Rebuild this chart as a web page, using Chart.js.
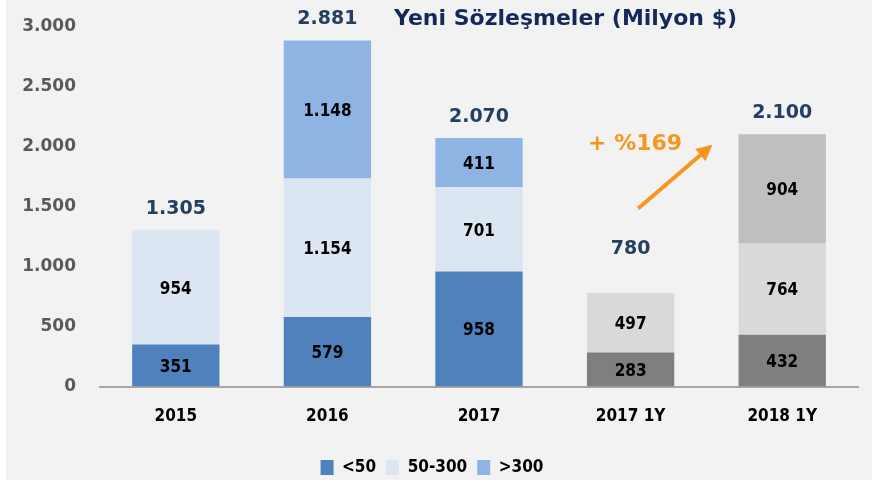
<!DOCTYPE html>
<html>
<head>
<meta charset="utf-8">
<script src="https://cdn.jsdelivr.net/npm/chart.js@4.4.0/dist/chart.umd.min.js"></script>
<style>
  html, body { margin: 0; padding: 0; background: #ffffff; }
  #wrap { position: absolute; left: 6px; top: 0; width: 866px; height: 480px; background: #f2f2f2; }
</style>
</head>
<body>
<div id="wrap"><canvas id="myChart" width="866" height="480"></canvas></div>
<script>
var categories = ['2015', '2016', '2017', '2017 1Y', '2018 1Y'];
var small = [351, 579, 958, 283, 432];      // <50
var medium = [954, 1154, 701, 497, 764];    // 50-300
var large = [0, 1148, 411, 0, 904];         // >300
var totals = [1305, 2881, 2070, 780, 2100];
var yTicks = [0, 500, 1000, 1500, 2000, 2500, 3000];
var growthLabel = '+ %169';

function fmt(v) {
    return v.toString().replace(/\B(?=(\d{3})+(?!\d))/g, '.');
}

// last two bars are half-year figures, drawn in grey
var blueSmall = '#4f81bd', blueMed = '#dce6f2', blueLarge = '#8eb4e3';
var greySmall = '#7f7f7f', greyMed = '#d9d9d9', greyLarge = '#bfbfbf';
function colors(blue, grey) {
    return categories.map(function (c) { return c.indexOf('1Y') > -1 ? grey : blue; });
}

var labelPlugin = {
    id: 'labels',
    afterDatasetsDraw: function (chart) {
        var ctx = chart.ctx;
        var xs = chart.scales.x, ys = chart.scales.y;
        ctx.save();
        ctx.textAlign = 'center';
        ctx.textBaseline = 'middle';
        ctx.fillStyle = '#000000';
        ctx.font = 'bold 17px "DejaVu Sans Condensed", "DejaVu Sans", sans-serif';
        chart.data.datasets.forEach(function (ds, di) {
            var meta = chart.getDatasetMeta(di);
            meta.data.forEach(function (bar, i) {
                var v = ds.data[i];
                if (!v) return;
                ctx.fillText(fmt(v), bar.x, (bar.y + bar.base) / 2 + 2);
            });
        });
        // totals
        ctx.fillStyle = '#243f60';
        ctx.font = 'bold 19px "DejaVu Sans", sans-serif';
        totals.forEach(function (t, i) {
            var off = (i === 3) ? 44 : 21;
            ctx.fillText(fmt(t), xs.getPixelForValue(i), ys.getPixelForValue(t) - off);
        });
        // growth arrow
        var x1 = xs.getPixelForValue(3.05), y1 = ys.getPixelForValue(1483);
        var x2 = xs.getPixelForValue(3.54), y2 = ys.getPixelForValue(2013);
        var ang = Math.atan2(y2 - y1, x2 - x1);
        ctx.strokeStyle = '#f7961e';
        ctx.fillStyle = '#f7961e';
        ctx.lineWidth = 4;
        ctx.beginPath();
        ctx.moveTo(x1, y1);
        ctx.lineTo(x2 - 10 * Math.cos(ang), y2 - 10 * Math.sin(ang));
        ctx.stroke();
        ctx.beginPath();
        ctx.moveTo(x2, y2);
        ctx.lineTo(x2 - 16 * Math.cos(ang) + 8 * Math.sin(ang), y2 - 16 * Math.sin(ang) - 8 * Math.cos(ang));
        ctx.lineTo(x2 - 16 * Math.cos(ang) - 8 * Math.sin(ang), y2 - 16 * Math.sin(ang) + 8 * Math.cos(ang));
        ctx.closePath();
        ctx.fill();
        ctx.font = 'bold 22px "DejaVu Sans", sans-serif';
        ctx.fillText(growthLabel, xs.getPixelForValue(3.03), ys.getPixelForValue(2013));
        // title
        ctx.fillStyle = '#14285a';
        ctx.font = 'bold 22px "DejaVu Sans", sans-serif';
        ctx.textAlign = 'left';
        ctx.fillText('Yeni Sözleşmeler (Milyon $)', 388, 19);
        ctx.restore();
    }
};

const ctx = document.getElementById('myChart').getContext('2d');
const myChart = new Chart(ctx, {
    type: 'bar',
    data: {
        labels: categories,
        datasets: [
            { label: '<50', data: small, backgroundColor: colors(blueSmall, greySmall) },
            { label: '50-300', data: medium, backgroundColor: colors(blueMed, greyMed) },
            { label: '>300', data: large, backgroundColor: colors(blueLarge, greyLarge) }
        ]
    },
    options: {
        responsive: false,
        animation: false,
        layout: { padding: { top: 16, right: 14, left: 0, bottom: -6 } },
        datasets: { bar: { categoryPercentage: 1, barPercentage: 0.576 } },
        plugins: {
            legend: {
                position: 'bottom',
                labels: {
                    boxWidth: 13,
                    boxHeight: 15,
                    padding: 10,
                    color: '#000000',
                    font: { family: '"DejaVu Sans Condensed", "DejaVu Sans", sans-serif', size: 17, weight: 'bold' },
                    generateLabels: function (chart) {
                        var cols = [blueSmall, blueMed, blueLarge];
                        return chart.data.datasets.map(function (ds, i) {
                            return { text: ds.label, fillStyle: cols[i], strokeStyle: cols[i], lineWidth: 0, datasetIndex: i };
                        });
                    }
                }
            },
            tooltip: { enabled: false }
        },
        scales: {
            x: {
                stacked: true,
                grid: { display: false },
                border: { display: true, color: '#a6a6a6', width: 2 },
                afterFit: function (axis) { axis.height += 10; },
                ticks: {
                    color: '#000000',
                    padding: 12,
                    font: { family: '"DejaVu Sans Condensed", "DejaVu Sans", sans-serif', size: 17, weight: 'bold' }
                }
            },
            y: {
                stacked: true,
                min: 0,
                max: 3000,
                afterBuildTicks: function (axis) {
                    axis.ticks = yTicks.map(function (v) { return { value: v }; });
                },
                afterFit: function (axis) { axis.width = 94; },
                grid: { display: false },
                border: { display: false },
                ticks: {
                    color: '#595959',
                    padding: 16,
                    font: { family: '"DejaVu Sans", sans-serif', size: 17, weight: 'bold' },
                    callback: function (v) { return fmt(v); }
                }
            }
        }
    },
    plugins: [labelPlugin]
});
</script>
</body>
</html>
